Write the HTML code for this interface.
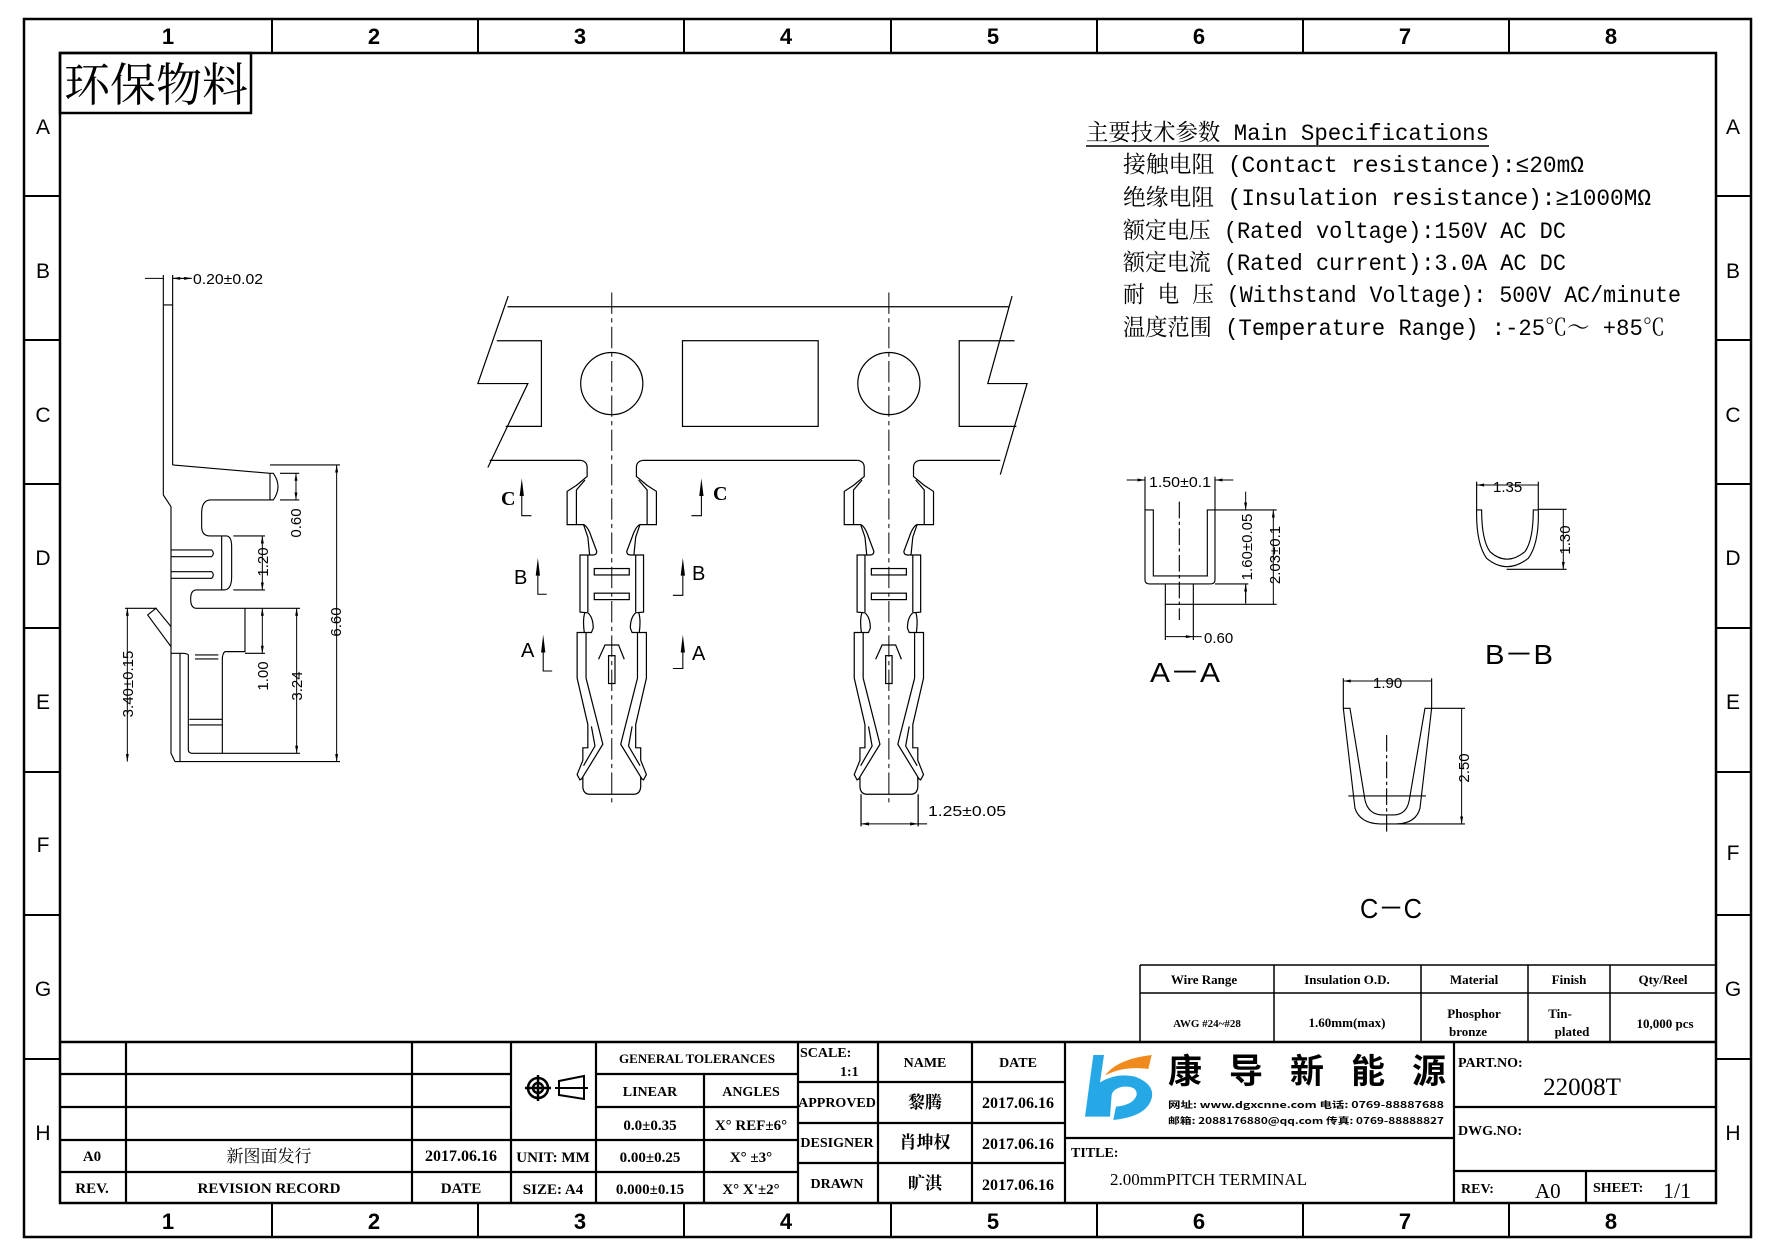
<!DOCTYPE html>
<html><head><meta charset="utf-8"><style>
html,body{margin:0;padding:0;background:#fff;}
svg{display:block;}
.s{font-family:"Liberation Sans","Noto Sans CJK SC",sans-serif;}
.m{font-family:"Liberation Mono","Noto Serif CJK SC",monospace;}
.t{font-family:"Liberation Serif","Noto Serif CJK SC",serif;font-weight:bold;}
</style></head><body>
<svg width="1778" height="1257" viewBox="0 0 1778 1257" xmlns="http://www.w3.org/2000/svg">
<defs>
<marker id="ar" viewBox="0 0 10 4" refX="10" refY="2" markerWidth="9" markerHeight="3" orient="auto-start-reverse" markerUnits="strokeWidth"><path d="M0,0 L10,2 L0,4 Z" fill="#000"/></marker>
</defs>
<rect width="1778" height="1257" fill="#fff"/>
<g fill="none" stroke="#000">
<rect x="24" y="19" width="1727" height="1218" stroke-width="2.5"/>
<rect x="60" y="53" width="1656" height="1150" stroke-width="2.5"/>
<g stroke-width="2">
<path d="M272,19V53M478,19V53M684,19V53M891,19V53M1097,19V53M1303,19V53M1509,19V53"/>
<path d="M272,1203V1237M478,1203V1237M684,1203V1237M891,1203V1237M1097,1203V1237M1303,1203V1237M1509,1203V1237"/>
<path d="M24,196H60M24,340H60M24,484H60M24,628H60M24,772H60M24,915H60M24,1059H60"/>
<path d="M1716,196H1751M1716,340H1751M1716,484H1751M1716,628H1751M1716,772H1751M1716,915H1751M1716,1059H1751"/>
</g>
<rect x="60" y="53" width="191" height="60" stroke-width="2.5"/>
</g>
<g class="s" font-size="22" font-weight="bold" text-anchor="middle">
<text x="168" y="44">1</text><text x="374" y="44">2</text><text x="580" y="44">3</text><text x="786" y="44">4</text><text x="993" y="44">5</text><text x="1199" y="44">6</text><text x="1405" y="44">7</text><text x="1611" y="44">8</text>
<text x="168" y="1229">1</text><text x="374" y="1229">2</text><text x="580" y="1229">3</text><text x="786" y="1229">4</text><text x="993" y="1229">5</text><text x="1199" y="1229">6</text><text x="1405" y="1229">7</text><text x="1611" y="1229">8</text>
<g font-weight="normal" font-size="21">
<text x="43" y="134">A</text><text x="43" y="278">B</text><text x="43" y="422">C</text><text x="43" y="565">D</text><text x="43" y="709">E</text><text x="43" y="852">F</text><text x="43" y="996">G</text><text x="43" y="1140">H</text>
<text x="1733" y="134">A</text><text x="1733" y="278">B</text><text x="1733" y="422">C</text><text x="1733" y="565">D</text><text x="1733" y="709">E</text><text x="1733" y="860">F</text><text x="1733" y="996">G</text><text x="1733" y="1140">H</text>
</g></g>
<text x="64" y="101" font-family="'Noto Serif CJK SC',serif" font-size="46" textLength="184" lengthAdjust="spacingAndGlyphs">环保物料</text>

<g class="m" font-size="23">
<text x="1086" y="140" textLength="403" lengthAdjust="spacingAndGlyphs">主要技术参数 Main Specifications</text>
<line x1="1086" y1="146" x2="1489" y2="146" stroke="#000" stroke-width="1.5"/>
<text x="1123" y="172" textLength="461" lengthAdjust="spacingAndGlyphs">接触电阻 (Contact resistance):≤20mΩ</text>
<text x="1123" y="205" textLength="528" lengthAdjust="spacingAndGlyphs">绝缘电阻 (Insulation resistance):≥1000MΩ</text>
<text x="1123" y="238" textLength="443" lengthAdjust="spacingAndGlyphs">额定电压 (Rated voltage):150V AC DC</text>
<text x="1123" y="270" textLength="443" lengthAdjust="spacingAndGlyphs">额定电流 (Rated current):3.0A AC DC</text>
<text x="1123" y="302" textLength="558" lengthAdjust="spacingAndGlyphs">耐 电 压 (Withstand Voltage): 500V AC/minute</text>
<text x="1123" y="335" textLength="542" lengthAdjust="spacingAndGlyphs">温度范围 (Temperature Range) :-25℃～ +85℃</text>
</g>

<g transform="translate(100,260) scale(0.3333)" fill="none" stroke="#000" stroke-width="3.4">
<path d="M190,45V705L213,740V1480L225,1505M218,45V615M190,135H218"/>
<path d="M218,615L510,640L520,640Q548,680 520,720L510,720V640"/>
<path d="M520,720H330Q305,722 305,760V800Q305,828 330,828H380Q395,830 395,860V950Q395,990 372,990H365V828"/>
<path d="M372,990H290Q272,990 272,1017Q272,1045 290,1045H435V1175H375Q367,1180 367,1200V1480H275Q265,1478 265,1470V1185Q262,1180 245,1180H213"/>
<path d="M240,1180V1505M225,1505H720"/>
<path d="M213,870H335Q345,880 335,890H213M213,935H335Q345,945 335,955H213"/>
<path d="M285,1185H355M285,1197H355M268,1378H367M268,1395H367"/>
<path d="M213,1100L168,1045L143,1065L213,1160"/>
<path d="M510,615H720M540,640H598M540,720H598M400,828H495M400,990H495M435,1045H600M435,1180H495M367,1480H600M75,1045H170"/>
<g stroke-width="3" marker-start="url(#ar)" marker-end="url(#ar)">
<path d="M710,615V1505"/><path d="M588,640V720"/><path d="M487,828V990"/><path d="M487,1045V1180"/><path d="M590,1045V1480"/><path d="M82,1045V1505"/>
</g>
<path d="M135,55H190M218,55H275" stroke-width="3" marker-end="url(#ar)"/>
<path d="M275,55H218" stroke-width="3" marker-end="url(#ar)"/>
</g>
<g class="s" font-size="15" fill="#000">
<text x="193" y="284" textLength="70" lengthAdjust="spacingAndGlyphs">0.20±0.02</text>
<text transform="translate(341,622) rotate(-90)" text-anchor="middle">6.60</text>
<text transform="translate(301,523) rotate(-90)" text-anchor="middle">0.60</text>
<text transform="translate(268,562) rotate(-90)" text-anchor="middle">1.20</text>
<text transform="translate(268,676) rotate(-90)" text-anchor="middle">1.00</text>
<text transform="translate(302,686) rotate(-90)" text-anchor="middle">3.24</text>
<text transform="translate(133,684) rotate(-90)" text-anchor="middle">3.40±0.15</text>
</g>

<g transform="translate(470,280) scale(0.3571)" fill="none" stroke="#000" stroke-width="3.4">
<path d="M105,75H1510"/>
<path d="M107,45L22,290H162L50,525"/>
<path d="M1518,45L1450,290H1560L1485,545"/>
<path d="M75,170H200V410H100M1525,170H1370V410H1530"/>
<circle cx="397" cy="290" r="87"/><circle cx="1173" cy="290" r="87"/>
<rect x="595" y="170" width="380" height="240"/>
<path d="M55,505H310M484,505H1086M1260,505H1485"/>
<g id="term">
<path d="M310,505Q328,508 328,525V550L298,575L272,592V685H318Q330,690 340,720L355,760Q355,770 345,770H308V930L330,932Q345,945 345,975L340,987H300V1115L330,1245V1310H316V1345L300,1385L308,1400L316,1395V1420Q318,1440 335,1440H459Q476,1440 478,1420V1395L486,1400L494,1385L478,1345V1310H464V1245L494,1115V987H454L449,975Q449,945 464,932L486,930V770H449Q439,770 439,760L454,720Q464,690 476,685H522V592L496,575L466,550V525Q466,508 484,505"/>
<path d="M322,560L298,588V685M318,685L330,720L335,770M330,770V930M322,930Q315,950 320,987M325,987V1115M325,1115L372,1300L312,1398M340,1250L350,1305L318,1360"/>
<path d="M472,560L496,588V685M476,685L464,720L459,770M464,770V930M472,930Q479,950 474,987M469,987V1115M469,1115L422,1300L482,1398M454,1250L444,1305L476,1360"/>
<rect x="348" y="808" width="98" height="18"/><rect x="348" y="877" width="98" height="18"/>
<rect x="388" y="1052" width="18" height="78"/>
<path d="M360,1062L378,1022H416L432,1062"/>
</g>
<use href="#term" transform="translate(776,0)"/>
<path d="M397,35V1470M1173,35V1470" stroke-width="2.8" stroke-dasharray="60 12 12 12"/>
<g stroke-width="3">
<path d="M145,600V660H172M648,600V660H620M190,825V880H215M596,825V883H568M205,1040V1095H230M596,1040V1088H568"/>
</g>
<g fill="#000" stroke="none">
<path d="M139,605L145,555L151,605Z M642,605L648,555L654,605Z M184,828L190,778L196,828Z M590,828L596,778L602,828Z M199,1043L205,993L211,1043Z M590,1043L596,993L602,1043Z"/>
</g>
<path d="M1095,1440V1530M1255,1440V1530"/>
<path d="M1095,1523H1255" stroke-width="3" marker-start="url(#ar)" marker-end="url(#ar)"/>
<path d="M1255,1523H1280" stroke-width="3"/>
</g>
<g class="s" fill="#000">
<text x="501" y="505" font-size="20" font-weight="bold" font-family="'Liberation Serif',serif">C</text>
<text x="713" y="500" font-size="20" font-weight="bold" font-family="'Liberation Serif',serif">C</text>
<text x="514" y="584" font-size="20">B</text>
<text x="692" y="580" font-size="20">B</text>
<text x="521" y="657" font-size="20">A</text>
<text x="692" y="660" font-size="20">A</text>
<text x="928" y="816" font-size="15" textLength="78" lengthAdjust="spacingAndGlyphs">1.25±0.05</text>
</g>

<g transform="translate(1120,460) scale(0.3333)" fill="none" stroke="#000" stroke-width="3.4">
<path d="M75,150V360Q75,372 90,372H270Q285,372 285,360V150H262V348H100V150Z"/>
<path d="M136,372V540M220,372V540M136,433H220"/>
<path d="M178,125V480" stroke-dasharray="50 10 10 10"/>
<path d="M75,150V50M285,150V50M285,150H385M285,372H385M220,433H470M385,150H470"/>
<g stroke-width="3" marker-end="url(#ar)"><path d="M20,60H75"/><path d="M340,60H285"/><path d="M377,95V150"/><path d="M377,430V372"/></g>
<path d="M377,372V430" stroke-width="3"/>
<path d="M460,150V433M136,530H220" stroke-width="3" marker-start="url(#ar)" marker-end="url(#ar)"/>
<path d="M220,530H245" stroke-width="3"/>
<path d="M1070,150Q1068,250 1100,295Q1160,345 1225,295Q1258,250 1255,150H1240Q1240,240 1215,275Q1160,320 1110,275Q1085,240 1085,150Z"/>
<path d="M1070,150V65M1255,150V65M1255,148H1340M1160,328H1340"/>
<path d="M1070,75H1255M1330,148V328" stroke-width="3" marker-start="url(#ar)" marker-end="url(#ar)"/>
<path d="M670,745L705,1045Q720,1090 780,1092H830Q888,1090 900,1045L935,745H915L868,1020Q860,1065 820,1065H790Q745,1065 735,1020L690,745Z"/>
<path d="M800,825V1115" stroke-dasharray="50 10 10 10"/>
<path d="M685,1008H918"/>
<path d="M670,745V655M935,745V655M935,745H1035M830,1092H1035"/>
<path d="M670,663H935M1025,745V1092" stroke-width="3" marker-start="url(#ar)" marker-end="url(#ar)"/>
</g>
<g class="s" fill="#000" font-size="15">
<text x="1149" y="487" textLength="62" lengthAdjust="spacingAndGlyphs">1.50±0.1</text>
<text transform="translate(1252,547) rotate(-90)" text-anchor="middle">1.60±0.05</text>
<text transform="translate(1280,555) rotate(-90)" text-anchor="middle">2.03±0.1</text>
<text x="1204" y="643">0.60</text>
<text x="1493" y="492">1.35</text>
<text transform="translate(1570,540) rotate(-90)" text-anchor="middle">1.30</text>
<text x="1373" y="688">1.90</text>
<text transform="translate(1469,768) rotate(-90)" text-anchor="middle">2.50</text>
<text x="1150" y="682" font-size="28" textLength="70" lengthAdjust="spacingAndGlyphs">A－A</text>
<text x="1485" y="664" font-size="28" textLength="68" lengthAdjust="spacingAndGlyphs">B－B</text>
<text x="1360" y="918" font-size="28" textLength="62" lengthAdjust="spacingAndGlyphs">C－C</text>
</g>

<g fill="none" stroke="#000" stroke-width="1.5">
<path d="M1140,965H1716M1140,993H1716M1140,965V1042M1274,965V1042M1421,965V1042M1528,965V1042M1610,965V1042"/>
</g>
<g class="t" font-size="13" fill="#000" text-anchor="middle">
<text x="1204" y="984">Wire Range</text><text x="1347" y="984">Insulation O.D.</text><text x="1474" y="984">Material</text><text x="1569" y="984">Finish</text><text x="1663" y="984">Qty/Reel</text>
<text x="1207" y="1027" font-size="11">AWG #24~#28</text><text x="1347" y="1027">1.60mm(max)</text>
<text x="1474" y="1018">Phosphor</text><text x="1468" y="1036">bronze</text>
<text x="1560" y="1018">Tin-</text><text x="1572" y="1036">plated</text>
<text x="1665" y="1028">10,000 pcs</text>
</g>

<g fill="none" stroke="#000">
<path d="M60,1042H1716" stroke-width="2.5"/>
<g stroke-width="2.2">
<path d="M60,1074H511M60,1107H511M60,1140H798M60,1172H798M596,1074H798M596,1107H798"/>
<path d="M126,1042V1203M412,1042V1203M511,1042V1203M596,1042V1203M704,1074V1203M798,1042V1203"/>
<path d="M798,1082H1065M798,1123H1065M798,1163H1065M878,1042V1203M972,1042V1203M1065,1042V1203"/>
<path d="M1065,1138H1454M1454,1042V1203M1454,1107H1716M1454,1171H1716M1586,1171V1203"/>
</g>
</g>
<g fill="none" stroke="#000" stroke-width="2.5">
<circle cx="538" cy="1088" r="10"/><circle cx="538" cy="1088" r="5"/>
<path d="M525,1088H551M538,1075V1101"/>
<path d="M559,1081L584,1076V1099L559,1095ZM555,1088H588" stroke-width="2"/>
</g>
<g class="t" font-size="14" fill="#000" text-anchor="middle">
<text x="697" y="1063" font-size="13">GENERAL TOLERANCES</text>
<text x="650" y="1096">LINEAR</text><text x="751" y="1096">ANGLES</text>
<text x="650" y="1130" font-size="15">0.0±0.35</text><text x="751" y="1130" font-size="15">X° REF±6°</text>
<text x="650" y="1162" font-size="15">0.00±0.25</text><text x="751" y="1162" font-size="15">X° ±3°</text>
<text x="650" y="1194" font-size="15">0.000±0.15</text><text x="751" y="1194" font-size="15">X° X'±2°</text>
<text x="553" y="1162" font-size="15">UNIT: MM</text><text x="553" y="1194" font-size="15">SIZE: A4</text>
<text x="92" y="1161" font-size="15">A0</text><text x="92" y="1193" font-size="15">REV.</text>
<text x="269" y="1162" font-size="17" font-weight="normal">新图面发行</text><text x="269" y="1193" font-size="15">REVISION RECORD</text>
<text x="461" y="1161" font-size="16">2017.06.16</text><text x="461" y="1193" font-size="15">DATE</text>
<text x="925" y="1067">NAME</text><text x="1018" y="1067">DATE</text>
<text x="837" y="1107">APPROVED</text><text x="925" y="1108" font-size="17">黎腾</text><text x="1018" y="1108" font-size="16">2017.06.16</text>
<text x="837" y="1147">DESIGNER</text><text x="925" y="1148" font-size="17">肖坤权</text><text x="1018" y="1149" font-size="16">2017.06.16</text>
<text x="837" y="1188">DRAWN</text><text x="925" y="1189" font-size="17">旷淇</text><text x="1018" y="1190" font-size="16">2017.06.16</text>
</g>
<g class="t" fill="#000" font-size="14">
<text x="800" y="1057">SCALE:</text><text x="840" y="1076">1:1</text>
<text x="1071" y="1157">TITLE:</text>
<text x="1110" y="1185" font-size="17" font-weight="normal">2.00mmPITCH TERMINAL</text>
<text x="1458" y="1067">PART.NO:</text>
<text x="1582" y="1095" font-size="25" font-weight="normal" text-anchor="middle">22008T</text>
<text x="1458" y="1135">DWG.NO:</text>
<text x="1461" y="1193">REV:</text><text x="1535" y="1198" font-size="21" font-weight="normal">A0</text>
<text x="1593" y="1192">SHEET:</text><text x="1663" y="1198" font-size="22" font-weight="normal">1/1</text>
</g>
<g transform="translate(1080,1045) scale(0.3333)">
<path d="M40,30H72L60,112Q110,82 165,95Q225,118 215,160Q200,215 100,225L108,185Q160,180 170,150Q172,122 130,125Q100,130 95,150L90,215L15,215Z" fill="#26a8e6"/>
<path d="M75,92Q110,42 215,30L205,72Q130,62 75,92Z" fill="#f08a1c"/>
</g>
<text x="1168" y="1083" font-family="'Noto Sans CJK SC',sans-serif" font-weight="bold" font-size="34" textLength="278" lengthAdjust="spacing">康导新能源</text>
<g font-family="'Noto Sans CJK SC',sans-serif" font-weight="bold" font-size="9" fill="#000">
<text x="1168" y="1108" textLength="276" lengthAdjust="spacingAndGlyphs">网址: www.dgxcnne.com      电话: 0769-88887688</text>
<text x="1168" y="1124" textLength="276" lengthAdjust="spacingAndGlyphs">邮箱: 2088176880@qq.com 传真: 0769-88888827</text>
</g>
</svg>
</body></html>
